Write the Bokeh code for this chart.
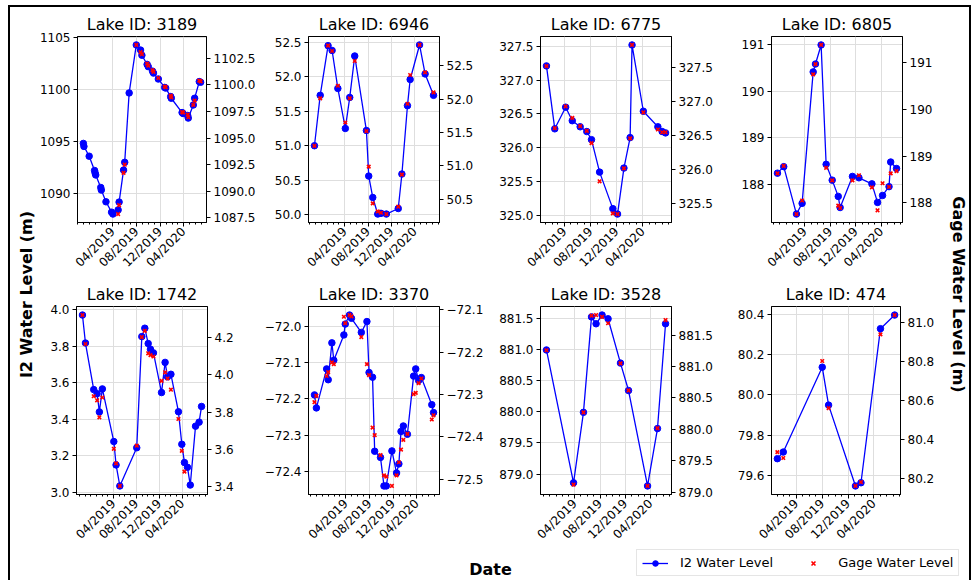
import math
import numpy as np
import pandas as pd
from bokeh.plotting import figure
from bokeh.layouts import row, column
from bokeh.models import (Range1d, LinearAxis, FixedTicker, SingleIntervalTicker,
                          DatetimeTickFormatter, CustomJSTickFormatter, Label,
                          Legend, LegendItem, Spacer)
from bokeh.embed import file_html
from bokeh.resources import INLINE

# ---------------- data ----------------
LAKE_IDS = ["3189", "6946", "6775", "6805", "1742", "3370", "3528", "474"]

DATES_3189 = ["2018-10-30", "2018-11-02", "2018-11-29", "2018-12-27", "2018-12-30", "2019-01-02",
              "2019-01-28", "2019-01-31", "2019-02-24", "2019-03-25", "2019-04-01", "2019-04-28",
              "2019-05-03", "2019-05-26", "2019-06-01", "2019-06-24", "2019-07-31", "2019-08-22",
              "2019-08-29", "2019-09-25", "2019-10-01", "2019-10-23", "2019-10-28", "2019-11-22",
              "2019-12-25", "2019-12-30", "2020-01-25", "2020-01-28", "2020-03-24", "2020-03-29",
              "2020-04-22", "2020-04-25", "2020-05-21", "2020-05-28", "2020-06-21", "2020-06-28"]
I2_3189 = [1094.80, 1094.51, 1093.57, 1092.19, 1091.94, 1091.76, 1090.56, 1090.31, 1089.18, 1088.18,
           1088.00, 1088.40, 1089.15, 1092.23, 1092.98, 1099.66, 1104.28, 1103.79, 1103.29, 1102.41,
           1102.19, 1101.76, 1101.57, 1101.00, 1100.19, 1100.13, 1099.31, 1099.15, 1097.77, 1097.68,
           1097.49, 1097.24, 1098.50, 1099.15, 1100.75, 1100.69]
GAGE_3189 = [None, None, None, None, None, None, None, None, None, None, None,
             1087.87, 1088.70, 1091.73, 1092.50, None, 1103.73, 1103.05, 1102.87, 1101.98,
             1101.79, 1101.37, 1101.21, 1100.63, 1099.83, 1099.77, 1098.97, 1098.82, 1097.44,
             1097.38, 1097.19, 1096.95, 1098.11, 1098.51, 1100.38, 1100.32]

DATES_6946 = ["2018-10-25", "2018-11-24", "2019-01-04", "2019-01-25", "2019-02-24", "2019-04-04",
              "2019-04-27", "2019-05-23", "2019-07-23", "2019-08-04", "2019-08-25", "2019-09-20",
              "2019-10-07", "2019-11-04", "2020-01-05", "2020-01-24", "2020-02-22", "2020-03-07",
              "2020-04-25", "2020-05-24", "2020-07-07"]
I2_6946 = [51.00, 51.73, 52.45, 52.38, 51.83, 51.25, 51.70, 52.30, 51.22, 50.56, 50.25, 50.01,
           50.02, 50.01, 50.09, 50.59, 51.58, 51.96, 52.46, 52.04, 51.73]
GAGE_6946 = [51.30, 52.01, 52.80, 52.72, 52.20, 51.65, 52.01, 52.57, 51.52, 50.99, 50.44, 50.32,
             50.30, 50.28, 50.39, 50.87, 51.93, 52.36, 52.81, 52.40, 52.10]

DATES_6775 = ["2019-01-06", "2019-02-14", "2019-04-06", "2019-05-07", "2019-06-13", "2019-07-14",
              "2019-08-05", "2019-09-12", "2019-11-13", "2019-12-05", "2020-01-04", "2020-02-02",
              "2020-02-11", "2020-04-04", "2020-06-11", "2020-07-01", "2020-07-17"]
I2_6775 = [327.21, 326.28, 326.60, 326.40, 326.31, 326.24, 326.12, 325.64, 325.10, 325.02,
           325.70, 326.15, 327.52, 326.54, 326.31, 326.24, 326.22]
GAGE_6775 = [327.52, 326.61, 326.93, 326.76, 326.64, 326.57, 326.39, 325.83, 325.36, 325.35,
             326.02, 326.46, 327.83, 326.84, 326.59, 326.55, 326.55]

DATES_6805 = ["2018-11-21", "2018-12-21", "2019-02-20", "2019-03-19", "2019-05-11", "2019-05-22",
              "2019-06-18", "2019-07-12", "2019-08-10", "2019-09-08", "2019-09-17", "2019-11-15",
              "2019-12-16", "2020-02-16", "2020-03-14", "2020-04-07", "2020-05-08", "2020-05-16",
              "2020-06-13"]
I2_6805 = [188.24, 188.38, 187.36, 187.59, 190.42, 190.59, 191.00, 188.43, 188.09, 187.74,
           187.50, 188.17, 188.14, 188.01, 187.61, 187.76, 187.95, 188.48, 188.34]
GAGE_6805 = [188.63, 188.79, 187.76, 188.05, 190.75, 190.97, 191.38, 188.75, 188.48, 187.94,
             187.89, 188.48, 188.59, 188.33, 187.84, 188.42, 188.34, 188.63, 188.68]

DATES_1742 = ["2018-10-18", "2018-11-03", "2018-12-17", "2019-01-04", "2019-01-16", "2019-02-01",
              "2019-04-03", "2019-04-15", "2019-05-05", "2019-08-03", "2019-08-30", "2019-09-15",
              "2019-10-03", "2019-10-15", "2019-10-31", "2019-12-13", "2020-01-01", "2020-01-14",
              "2020-02-01", "2020-03-12", "2020-03-30", "2020-04-13", "2020-04-29", "2020-05-14",
              "2020-06-11", "2020-06-30", "2020-07-13"]
I2_1742 = [3.971, 3.818, 3.563, 3.541, 3.441, 3.567, 3.279, 3.151, 3.036, 3.245, 3.853, 3.899,
           3.815, 3.784, 3.764, 3.547, 3.712, 3.633, 3.647, 3.442, 3.264, 3.164, 3.138, 3.041,
           3.363, 3.385, 3.471]
GAGE_1742 = [4.320, 4.165, 3.885, 3.863, 3.772, 3.878, 3.603, 3.525, 3.404, 3.620, 4.202, 4.235,
             4.115, 4.105, 4.098, 3.967, 4.013, 3.980, 3.920, 3.763, 3.592, 3.481,
             None, None, None, None, None]

DATES_3370 = ["2018-10-21", "2018-10-31", "2018-12-23", "2018-12-31", "2019-01-19", "2019-01-29",
              "2019-03-22", "2019-03-29", "2019-04-20", "2019-04-30", "2019-06-20", "2019-07-19",
              "2019-07-30", "2019-08-17", "2019-08-28", "2019-09-27", "2019-10-15", "2019-10-27",
              "2019-11-25", "2019-12-19", "2019-12-31", "2020-01-11", "2020-01-23", "2020-02-13",
              "2020-03-16", "2020-03-27", "2020-04-11", "2020-04-25", "2020-06-18", "2020-06-27"]
I2_3370 = [-72.189, -72.225, -72.117, -72.147, -72.045, -72.093, -72.023, -71.993, -71.968, -71.977,
           -72.016, -71.986, -72.127, -72.140, -72.345, -72.362, -72.441, -72.441, -72.344, -72.405,
           -72.380, -72.290, -72.275, -72.298, -72.137, -72.117, -72.149, -72.141, -72.216, -72.238]
GAGE_3370 = [-72.318, -72.303, -72.256, -72.247, -72.224, -72.228, -72.116, -72.131, -72.112, -72.115,
             -72.164, -72.228, -72.254, -72.378, -72.396, -72.443, -72.491, -72.494, -72.516, -72.491,
             -72.460, -72.430, -72.407, -72.393, -72.299, -72.296, -72.273, -72.262, -72.359, -72.349]

DATES_3528 = ["2018-11-15", "2019-03-26", "2019-05-13", "2019-06-21", "2019-07-13", "2019-08-11",
              "2019-09-09", "2019-11-08", "2019-12-17", "2020-03-18", "2020-05-05", "2020-06-13"]
I2_3528 = [880.99, 878.86, 879.99, 881.52, 881.41, 881.55, 881.49, 880.78, 880.34, 878.81,
           879.73, 881.41]
GAGE_3528 = [881.26, 879.12, 880.27, 881.81, 881.82, 881.79, 881.69, 881.05, 880.62, 879.10,
             880.02, 881.74]

DATES_474 = ["2019-01-01", "2019-01-29", "2019-08-01", "2019-08-31", "2020-01-05", "2020-01-31",
             "2020-05-02", "2020-07-08"]
I2_474 = [79.682, 79.715, 80.138, 79.949, 79.546, 79.562, 80.330, 80.398]
GAGE_474 = [80.336, 80.306, 80.802, 80.561, 80.163, 80.183, 80.938, 81.037]

SERIES = [(DATES_3189, I2_3189, GAGE_3189), (DATES_6946, I2_6946, GAGE_6946),
          (DATES_6775, I2_6775, GAGE_6775), (DATES_6805, I2_6805, GAGE_6805),
          (DATES_1742, I2_1742, GAGE_1742), (DATES_3370, I2_3370, GAGE_3370),
          (DATES_3528, I2_3528, GAGE_3528), (DATES_474, I2_474, GAGE_474)]

LEFT_STEP = [5, 0.5, 0.5, 1, 0.2, 0.1, 0.5, 0.2]
RIGHT_STEP = [2.5, 0.5, 0.5, 1, 0.2, 0.1, 0.5, 0.2]
LEFT_DEC = [0, 1, 1, 0, 1, 1, 1, 1]
RIGHT_DEC = [1, 1, 1, 0, 1, 1, 1, 1]

MAJOR_TICK_DATES = ["2019-04-01", "2019-08-01", "2019-12-01", "2020-04-01"]
MINOR_TICK_DATES = [d.strftime("%Y-%m-%d") for d in pd.date_range("2018-08-01", "2020-09-01", freq="MS")]

Y_LABEL = "I2 Water Level (m)"
Y2_LABEL = "Gage Water Level (m)"
X_LABEL = "Date"
LEGEND_LABELS = ["I2 Water Level", "Gage Water Level"]

# ---------------- layout / style ----------------
FONT = "DejaVu Sans"
BLUE = "#0000ff"
RED = "#ff0000"
GRID = "#dedede"
FRAME_W = 131
FRAME_H = [190, 191]
BT = 29
COL_BORDERS = [(40, 51), (50, 51), (50, 51), (49, 35)]
ROW_BOTTOM = [51, 52]
LEFT_W, RIGHT_W = 26, 32
BOTTOM_H = 31

EPOCH = pd.Timestamp("1970-01-01")


def to_ms(dates):
    return np.array([(pd.Timestamp(d) - EPOCH) / pd.Timedelta(milliseconds=1) for d in dates])


def padded(lo, hi, frac=0.05):
    span = hi - lo
    return lo - frac * span, hi + frac * span


def num_fmt(dec):
    return CustomJSTickFormatter(args=dict(dec=dec),
                                 code="return tick.toFixed(dec).replace('-', '\\u2212');")


def style_axis(ax):
    ax.axis_line_color = "black"
    ax.axis_line_width = 1
    ax.major_tick_line_color = "black"
    ax.major_tick_out = 4
    ax.major_tick_in = 0
    ax.minor_tick_line_color = "black"
    ax.minor_tick_out = 2
    ax.minor_tick_in = 0
    ax.major_label_text_font = FONT
    ax.major_label_text_font_size = "12px"
    ax.major_label_text_color = "black"
    ax.major_label_standoff = 3


def make_panel(k, col, rw):
    dates, i2, gage = SERIES[k]
    xs = to_ms(dates)
    i2 = np.asarray(i2, dtype=float)
    g = np.array([np.nan if v is None else v for v in gage], dtype=float)
    mask = ~np.isnan(g)
    x0, x1 = padded(xs.min(), xs.max())
    y0, y1 = padded(i2.min(), i2.max())
    g0, g1 = padded(g[mask].min(), g[mask].max())
    bl, br = COL_BORDERS[col]
    bb = ROW_BOTTOM[rw]
    p = figure(width=bl + FRAME_W + br, height=BT + FRAME_H[rw] + bb, x_axis_type="datetime",
               x_range=Range1d(x0, x1), y_range=Range1d(y0, y1),
               min_border_left=bl, min_border_right=br, min_border_top=BT, min_border_bottom=bb,
               toolbar_location=None, output_backend="svg", title="Lake ID: " + LAKE_IDS[k])
    p.title.text_font = FONT
    p.title.text_font_size = "16px"
    p.title.text_font_style = "normal"
    p.title.text_color = "black"
    p.title.align = "center"
    p.title.standoff = 6
    p.outline_line_color = "black"
    p.outline_line_width = 1
    p.background_fill_color = "white"
    p.border_fill_color = "white"

    p.xaxis.ticker = FixedTicker(ticks=list(to_ms(MAJOR_TICK_DATES)),
                                 minor_ticks=list(to_ms(MINOR_TICK_DATES)))
    p.xgrid.ticker = FixedTicker(ticks=list(to_ms(MAJOR_TICK_DATES)))
    p.xaxis.formatter = DatetimeTickFormatter(days="%m/%Y", months="%m/%Y", years="%m/%Y")
    p.xaxis.major_label_orientation = math.pi / 4
    style_axis(p.xaxis[0])

    yt = SingleIntervalTicker(interval=LEFT_STEP[k], num_minor_ticks=0)
    p.yaxis.ticker = yt
    p.ygrid.ticker = yt
    p.yaxis.formatter = num_fmt(LEFT_DEC[k])
    style_axis(p.yaxis[0])

    p.extra_y_ranges = {"gage": Range1d(g0, g1)}
    rax = LinearAxis(y_range_name="gage",
                     ticker=SingleIntervalTicker(interval=RIGHT_STEP[k], num_minor_ticks=0),
                     formatter=num_fmt(RIGHT_DEC[k]))
    style_axis(rax)
    p.add_layout(rax, "right")

    for gr in (p.xgrid[0], p.ygrid[0]):
        gr.grid_line_color = GRID
        gr.grid_line_width = 1

    p.line(xs, i2, line_color=BLUE, line_width=1.3)
    p.scatter(xs, i2, marker="circle", size=6.5, fill_color=BLUE, line_color=BLUE)
    p.scatter(xs[mask], g[mask], marker="x", size=5, line_color=RED, line_width=1.6,
              y_range_name="gage")
    return p


panels = []
for k in range(8):
    rw, col = divmod(k, 4)
    panels.append(make_panel(k, col, rw))

grid_h = sum(BT + FRAME_H[r] + ROW_BOTTOM[r] for r in range(2))


def blank_fig(w, h):
    f = figure(width=w, height=h, x_range=Range1d(0, w), y_range=Range1d(0, h),
               min_border=0, toolbar_location=None, output_backend="svg",
               x_axis_location=None, y_axis_location=None)
    f.xgrid.visible = False
    f.ygrid.visible = False
    f.outline_line_color = None
    f.background_fill_color = "white"
    f.border_fill_color = "white"
    return f


left_fig = blank_fig(LEFT_W, grid_h)
left_fig.add_layout(Label(x=16, y=grid_h - 287, text=Y_LABEL, angle=math.pi / 2,
                          text_align="center", text_baseline="middle", text_font=FONT,
                          text_font_size="16px", text_font_style="bold", text_color="black"))

right_fig = blank_fig(RIGHT_W, grid_h)
right_fig.add_layout(Label(x=21, y=grid_h - 287, text=Y2_LABEL, angle=-math.pi / 2,
                           text_align="center", text_baseline="middle", text_font=FONT,
                           text_font_size="16px", text_font_style="bold", text_color="black"))

total_w = LEFT_W + sum(bl + FRAME_W + br for bl, br in COL_BORDERS) + RIGHT_W
bottom_fig = blank_fig(total_w, BOTTOM_H)
bottom_fig.add_layout(Label(x=480, y=11, text=X_LABEL, text_align="center", text_baseline="middle",
                            text_font=FONT, text_font_size="16px", text_font_style="bold",
                            text_color="black"))
r_line = bottom_fig.line(x=[-100, -90], y=[-100, -100], line_color=BLUE, line_width=1.3)
r_dot = bottom_fig.scatter(x=[-100], y=[-100], marker="circle", size=6.5,
                           fill_color=BLUE, line_color=BLUE)
r_x = bottom_fig.scatter(x=[-100], y=[-100], marker="x", size=5, line_color=RED, line_width=1.6)
legend = Legend(items=[LegendItem(label=LEGEND_LABELS[0], renderers=[r_line, r_dot]),
                       LegendItem(label=LEGEND_LABELS[1], renderers=[r_x])],
                orientation="horizontal", location=(626, 4),
                border_line_color="#cccccc", border_line_width=1,
                background_fill_color="white", background_fill_alpha=1,
                padding=5, margin=0, spacing=27, glyph_width=26, glyph_height=14,
                label_height=14, label_standoff=12, label_text_font=FONT,
                label_text_font_size="13px", label_text_color="black")
bottom_fig.add_layout(legend)

grid = column(row(*panels[:4]), row(*panels[4:]))
framed = column(row(left_fig, grid, right_fig), bottom_fig,
                styles={"border-left": "2px solid black", "border-top": "2px solid black",
                        "border-right": "2px solid black"})
layout = column(Spacer(height=5), row(Spacer(width=8), framed))

open("out.html", "w").write(file_html(layout, INLINE))
